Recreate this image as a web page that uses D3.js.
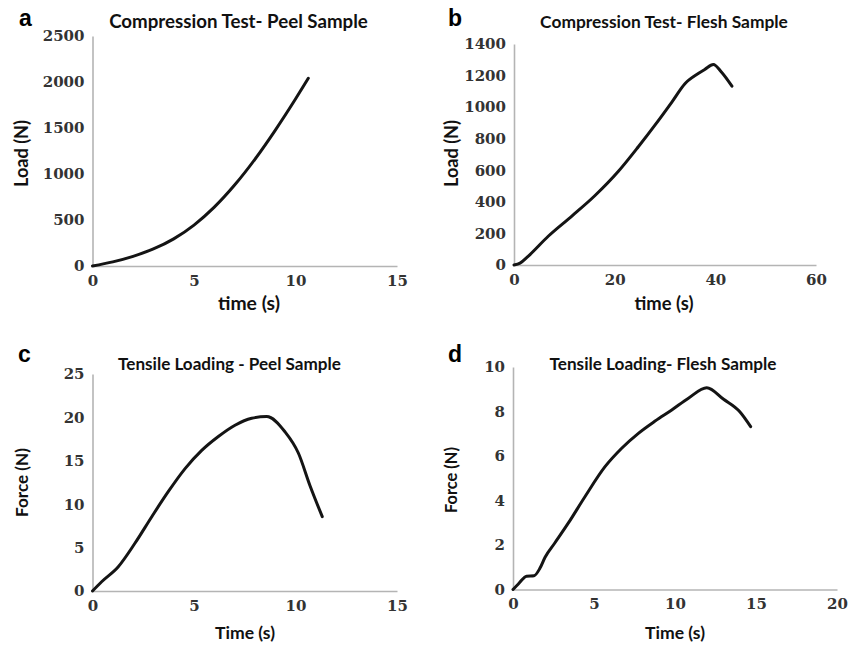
<!DOCTYPE html>
<html>
<head>
<meta charset="utf-8">
<script src="https://cdn.jsdelivr.net/npm/d3@7"></script>
<style>
  html, body { margin: 0; padding: 0; background: #fff; }
  svg { display: block; }
  .tick text { font-family: "DejaVu Serif", serif; font-weight: bold; font-size: 15px; fill: #333; }
  .title, .axis-label { font-family: Lato, "Open Sans", sans-serif; font-weight: bold; fill: #111; }
  .panel-letter { font-family: "Liberation Sans", Arial, sans-serif; font-weight: bold; font-size: 23px; fill: #000; }
</style>
</head>
<body>
<script>
// Compression test, peel sample: time (s) vs load (N)
const compPeelTime = [0, 1, 2, 3, 4, 5, 6, 7, 8, 9, 10, 10.63];
const compPeelLoad = [0, 45, 105, 185, 295, 445, 640, 880, 1160, 1475, 1815, 2040];

// Compression test, flesh sample: time (s) vs load (N)
const compFleshTime = [0, 1.2, 2.8, 6.8, 11.5, 16.1, 20.7, 24.7, 28.0, 31.4, 34.0, 36.6, 37.9, 39.6, 41.2, 43.3];
const compFleshLoad = [0, 12, 55, 182, 310, 440, 592, 749, 886, 1034, 1150, 1213, 1239, 1270, 1223, 1133];

// Tensile loading, peel sample: time (s) vs force (N)
const tensPeelTime = [0, 0.45, 1.27, 2.09, 2.92, 3.73, 4.56, 5.38, 6.2, 7.02, 7.84, 8.58, 9.48, 10.14, 10.72, 11.32];
const tensPeelForce = [0, 1.07, 2.8, 5.5, 8.56, 11.44, 14.1, 16.2, 17.8, 19.1, 19.9, 20.1, 18.35, 15.9, 12.1, 8.56];

// Tensile loading, flesh sample: time (s) vs force (N)
const tensFleshTime = [0, 0.33, 0.84, 1.3, 1.66, 1.98, 2.59, 3.41, 4.44, 5.68, 6.71, 7.74, 8.77, 9.8, 10.83, 11.96, 13.0, 14.0, 14.67];
const tensFleshForce = [0, 0.25, 0.6, 0.62, 0.95, 1.45, 2.1, 2.98, 4.17, 5.52, 6.35, 7.02, 7.57, 8.07, 8.6, 9.07, 8.55, 7.99, 7.32];

// Axis tick values
const ticksA_x = [0, 5, 10, 15];
const ticksA_y = [0, 500, 1000, 1500, 2000, 2500];
const ticksB_x = [0, 20, 40, 60];
const ticksB_y = [0, 200, 400, 600, 800, 1000, 1200, 1400];
const ticksC_x = [0, 5, 10, 15];
const ticksC_y = [0, 5, 10, 15, 20, 25];
const ticksD_x = [0, 5, 10, 15, 20];
const ticksD_y = [0, 2, 4, 6, 8, 10];

const W = 859, H = 647;
const svg = d3.select("body").append("svg").attr("width", W).attr("height", H);

// Each label: [text, x, y, width it should span]
const panels = [
  { letter: "a", xs: compPeelTime, ys: compPeelLoad, xTicks: ticksA_x, yTicks: ticksA_y,
    box: { x0: 92.5, x1: 397, y0: 266, y1: 36 }, letterPos: [19, 26],
    title: ["Compression Test- Peel Sample", 238.5, 28, 259],
    xLabel: ["time (s)", 249, 310, 62], yLabel: ["Load (N)", 28, 153.5, 67] },
  { letter: "b", xs: compFleshTime, ys: compFleshLoad, xTicks: ticksB_x, yTicks: ticksB_y,
    box: { x0: 514, x1: 816, y0: 265, y1: 44 }, letterPos: [448, 26],
    title: ["Compression Test- Flesh Sample", 664, 28, 248],
    xLabel: ["time (s)", 664, 310, 59], yLabel: ["Load (N)", 458, 153.5, 67] },
  { letter: "c", xs: tensPeelTime, ys: tensPeelForce, xTicks: ticksC_x, yTicks: ticksC_y,
    box: { x0: 92.5, x1: 397, y0: 591, y1: 374 }, letterPos: [18, 362],
    title: ["Tensile Loading - Peel Sample", 229.5, 370, 223],
    xLabel: ["Time (s)", 245, 639, 60], yLabel: ["Force (N)", 28, 482.5, 69] },
  { letter: "d", xs: tensFleshTime, ys: tensFleshForce, xTicks: ticksD_x, yTicks: ticksD_y,
    box: { x0: 513, x1: 837, y0: 589.5, y1: 367 }, letterPos: [448, 362],
    title: ["Tensile Loading- Flesh Sample", 663, 370, 227],
    xLabel: ["Time (s)", 675, 639, 60], yLabel: ["Force (N)", 457, 480, 66] }
];

// Set a text's font size so that it spans the requested width
function fitText(sel, base, width) {
  sel.attr("font-size", base);
  const w = sel.node().getComputedTextLength();
  sel.attr("font-size", (base * width / w).toFixed(2));
}

panels.forEach(p => {
  const x = d3.scaleLinear().domain(d3.extent(p.xTicks)).range([p.box.x0, p.box.x1]);
  const y = d3.scaleLinear().domain(d3.extent(p.yTicks)).range([p.box.y0, p.box.y1]);

  const g = svg.append("g");

  const gy = g.append("g")
    .attr("transform", `translate(${p.box.x0},0)`)
    .call(d3.axisLeft(y).tickValues(p.yTicks).tickSize(0).tickPadding(8).tickFormat(d3.format("d")));
  const gx = g.append("g")
    .attr("transform", `translate(0,${p.box.y0})`)
    .call(d3.axisBottom(x).tickValues(p.xTicks).tickSize(0).tickPadding(9).tickFormat(d3.format("d")));

  [gx, gy].forEach(a => {
    a.select(".domain").attr("stroke", "#b4b4b4").attr("stroke-width", 1.6);
    a.selectAll(".tick line").remove();
    a.attr("font-family", null).attr("font-size", null);
  });

  const pts = p.xs.map((t, i) => [t, p.ys[i]]);
  g.append("path")
    .datum(pts)
    .attr("fill", "none")
    .attr("stroke", "#141414")
    .attr("stroke-width", 3)
    .attr("stroke-linejoin", "round")
    .attr("stroke-linecap", "round")
    .attr("d", d3.line().x(d => x(d[0])).y(d => y(d[1])).curve(d3.curveMonotoneX));

  g.append("text").attr("class", "panel-letter")
    .attr("x", p.letterPos[0]).attr("y", p.letterPos[1]).text(p.letter);

  const t = g.append("text").attr("class", "title")
    .attr("x", p.title[1]).attr("y", p.title[2])
    .attr("text-anchor", "middle").text(p.title[0]);
  fitText(t, 17, p.title[3]);

  const xl = g.append("text").attr("class", "axis-label")
    .attr("x", p.xLabel[1]).attr("y", p.xLabel[2])
    .attr("text-anchor", "middle").text(p.xLabel[0]);
  fitText(xl, 17, p.xLabel[3]);

  const yl = g.append("text").attr("class", "axis-label")
    .attr("transform", `translate(${p.yLabel[1]},${p.yLabel[2]}) rotate(-90)`)
    .attr("text-anchor", "middle").text(p.yLabel[0]);
  fitText(yl, 17, p.yLabel[3]);
});
</script>
</body>
</html>
